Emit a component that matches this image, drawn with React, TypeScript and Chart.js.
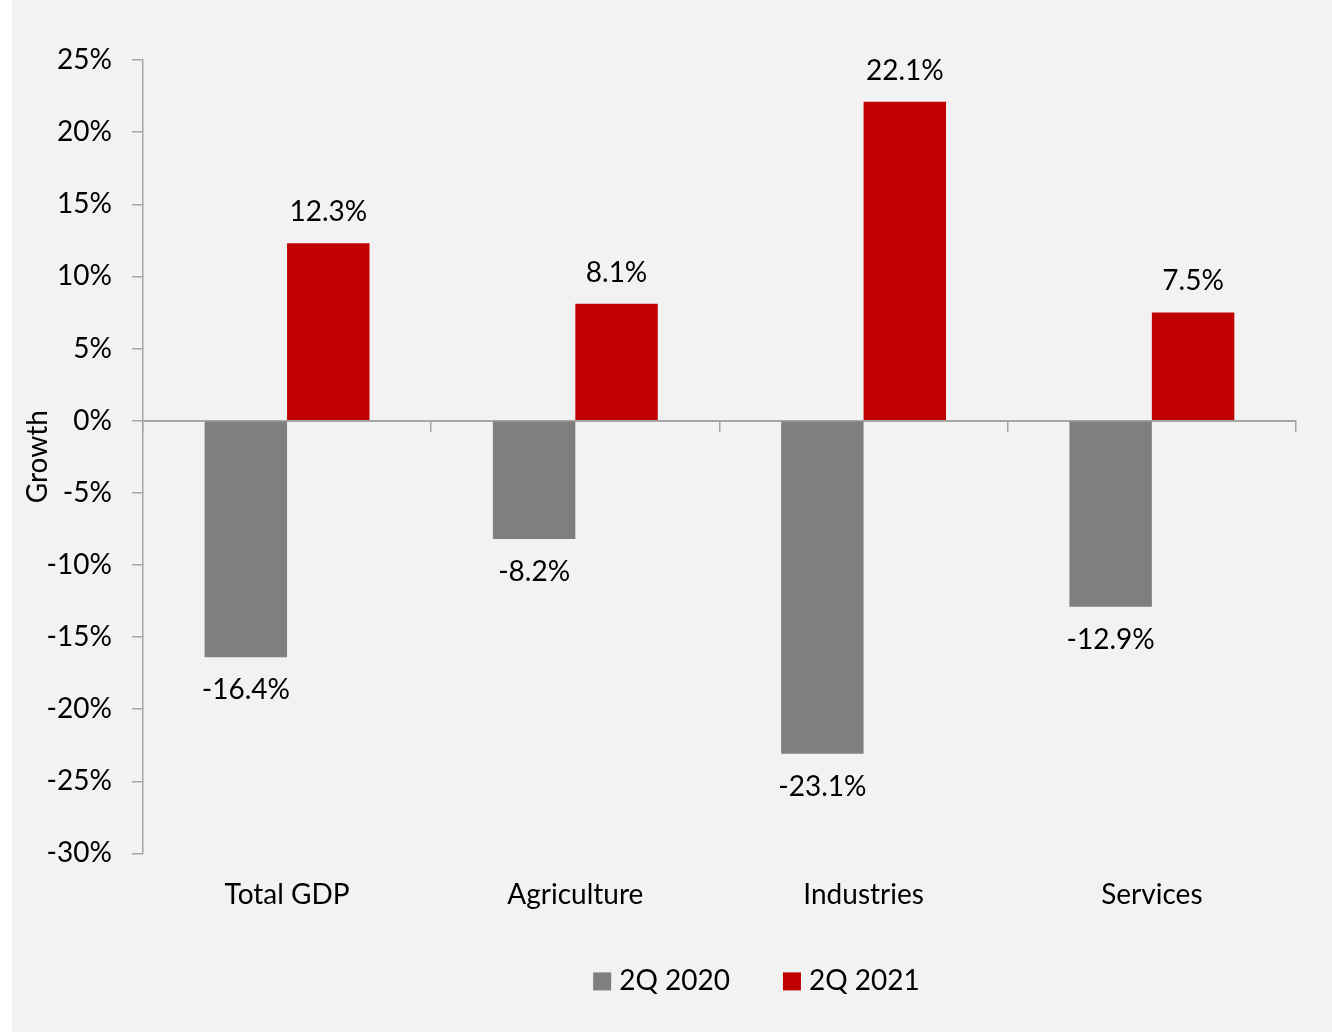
import React, { useEffect, useRef } from 'react';
import { Chart, registerables } from 'chart.js';

Chart.register(...registerables);

const categories = ['Total GDP', 'Agriculture', 'Industries', 'Services'];
const seriesNames = ['2Q 2020', '2Q 2021'];
const values2020 = [-16.4, -8.2, -23.1, -12.9];
const values2021 = [12.3, 8.1, 22.1, 7.5];
const yMin = -30;
const yMax = 25;
const yStep = 5;
const yTitle = 'Growth';

const FONT = 'Lato';
const FONT_SIZE = 28;
const AXIS = '#a6a6a6';
const TEXT = '#000000';
const GRAY = '#7f7f7f';
const RED = '#c00000';

const valueLabels = {
  id: 'valueLabels',
  afterDatasetsDraw(chart: any) {
    const ctx = chart.ctx;
    ctx.save();
    ctx.font = `${FONT_SIZE}px ${FONT}`;
    ctx.fillStyle = TEXT;
    ctx.textAlign = 'center';
    ctx.textBaseline = 'middle';
    chart.data.datasets.forEach((ds: any, i: number) => {
      const meta = chart.getDatasetMeta(i);
      meta.data.forEach((el: any, j: number) => {
        const v = ds.data[j];
        const y = v >= 0 ? el.y - 31 : el.y + 33;
        ctx.fillText(v.toFixed(1) + '%', el.x, y);
      });
    });
    ctx.restore();
  },
};

const bottomLegend = {
  id: 'bottomLegend',
  afterDraw(chart: any) {
    const ctx = chart.ctx;
    const area = chart.chartArea;
    ctx.save();
    ctx.font = `${FONT_SIZE}px ${FONT}`;
    ctx.textBaseline = 'middle';
    ctx.textAlign = 'left';
    const items = chart.data.datasets.map((ds: any) => ({ text: ds.label, color: ds.backgroundColor }));
    const box = 18;
    const gap = 8;
    const spacing = 53;
    const widths = items.map((it: any) => box + gap + ctx.measureText(it.text).width);
    const total = widths.reduce((a: number, b: number) => a + b, 0) + spacing * (items.length - 1);
    let x = (area.left + area.right) / 2 + 37 - total / 2;
    const y = area.bottom + 128;
    items.forEach((it: any, i: number) => {
      ctx.fillStyle = it.color;
      ctx.fillRect(x, y - box / 2, box, box);
      ctx.fillStyle = TEXT;
      ctx.fillText(it.text, x + box + gap, y);
      x += widths[i] + spacing;
    });
    ctx.restore();
  },
};

export default function App() {
  const ref = useRef<HTMLCanvasElement>(null);

  useEffect(() => {
    if (!ref.current) return;
    const font = { family: FONT, size: FONT_SIZE };
    const chart = new Chart(ref.current, {
      type: 'bar',
      data: {
        labels: categories,
        datasets: [
          {
            label: seriesNames[0],
            data: values2020,
            backgroundColor: GRAY,
            borderWidth: 0,
            barPercentage: 1,
            categoryPercentage: 0.572,
          },
          {
            label: seriesNames[1],
            data: values2021,
            backgroundColor: RED,
            borderWidth: 0,
            barPercentage: 1,
            categoryPercentage: 0.572,
          },
        ],
      },
      options: {
        responsive: false,
        animation: false,
        layout: { padding: { left: 5, right: 36, top: 60, bottom: 103 } },
        plugins: {
          tooltip: { enabled: false },
          legend: { display: false },
        },
        scales: {
          x: {
            type: 'category',
            axis: 'x',
            position: { y: 0 },
            offset: true,
            ticks: { display: false },
            grid: {
              display: true,
              drawOnChartArea: false,
              drawTicks: true,
              tickLength: 10,
              offset: true,
              color: AXIS,
              lineWidth: 1.5,
            },
            border: { display: true, color: AXIS, width: 2 },
          },
          x2: {
            type: 'category',
            axis: 'x',
            position: 'bottom',
            labels: categories,
            offset: true,
            grid: { display: false },
            border: { display: false },
            ticks: { color: TEXT, font, padding: 17 },
          },
          y: {
            min: yMin,
            max: yMax,
            ticks: {
              stepSize: yStep,
              color: TEXT,
              font,
              padding: 20,
              callback: (v: any) => v + '%',
            },
            grid: {
              drawOnChartArea: false,
              drawTicks: true,
              tickLength: 11,
              color: AXIS,
              lineWidth: 1.5,
            },
            border: { display: true, color: AXIS, width: 1.5 },
            title: {
              display: true,
              text: yTitle,
              color: TEXT,
              font,
              padding: { top: 4, bottom: -28 },
            },
          },
        },
      },
      plugins: [valueLabels, bottomLegend],
    } as any);
    return () => chart.destroy();
  }, []);

  return (
    <div
      style={{
        position: 'fixed',
        left: 12,
        top: 0,
        width: 1320,
        height: 1032,
        background: '#f2f2f2',
        overflow: 'hidden',
      }}
    >
      <canvas ref={ref} width={1320} height={1032} style={{ display: 'block' }} />
    </div>
  );
}
